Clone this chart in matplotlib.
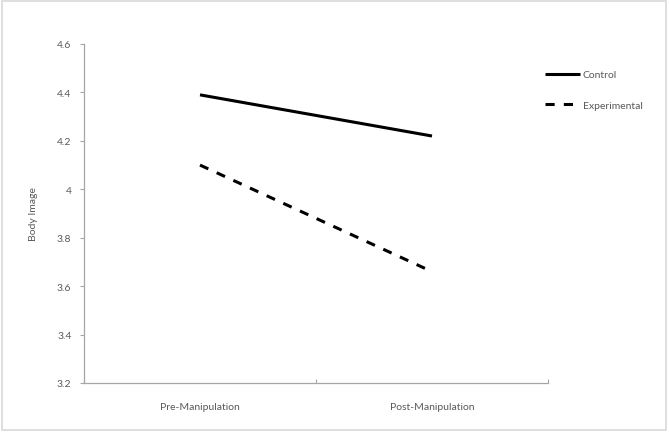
import matplotlib.pyplot as plt
from matplotlib.patches import Rectangle

# data
phases = ["Pre-Manipulation", "Post-Manipulation"]
control = [4.39, 4.22]
experimental = [4.10, 3.66]
yticks = [3.2, 3.4, 3.6, 3.8, 4.0, 4.2, 4.4, 4.6]
ytick_labels = ["3.2", "3.4", "3.6", "3.8", "4", "4.2", "4.4", "4.6"]

plt.rcParams['font.family'] = ['Lato', 'DejaVu Sans']
txt = '#595959'
axc = '#a6a6a6'

fig = plt.figure(figsize=(6.69, 4.35), dpi=100)
ax = fig.add_axes([84/669, 1-384/435, (548-84)/669, (384-45)/435])

x = [0.5, 1.5]
ax.plot(x, control, color='black', lw=2.2, solid_capstyle='butt', label='Control')
ax.plot(x, experimental, color='black', lw=2.2, ls=(0, (3, 3)), label='Experimental')

ax.set_xlim(0, 2)
ax.set_ylim(3.2, 4.6)
ax.set_yticks(yticks)
ax.set_yticklabels(ytick_labels)
ax.set_xticks([0, 1, 2])
ax.set_xticklabels([])
ax.set_xticks(x, minor=True)
ax.set_xticklabels(phases, minor=True)
ax.tick_params(axis='x', which='minor', length=0, pad=14, labelsize=7.5, labelcolor=txt)
ax.tick_params(axis='x', which='major', length=3, color=axc, direction='in')
ax.tick_params(axis='y', length=3, color=axc, labelsize=7.5, labelcolor=txt, pad=6)

for s in ['top', 'right']:
    ax.spines[s].set_visible(False)
for s in ['left', 'bottom']:
    ax.spines[s].set_color(axc)
    ax.spines[s].set_linewidth(0.9)

ax.set_ylabel('Body Image', fontsize=7.5, color=txt, labelpad=14)

leg = ax.legend(loc='upper left', bbox_to_anchor=(0.985, 0.935), frameon=False,
                fontsize=7.5, handlelength=3.3, handletextpad=0.3,
                labelspacing=2.0, borderaxespad=0)
for t in leg.get_texts():
    t.set_color(txt)

fig.patches.append(Rectangle((2/669, 4/435), 664/669, 429/435, transform=fig.transFigure,
                             fill=False, edgecolor='#d9d9d9', lw=1.2))

fig.savefig('out.png', dpi=100)
